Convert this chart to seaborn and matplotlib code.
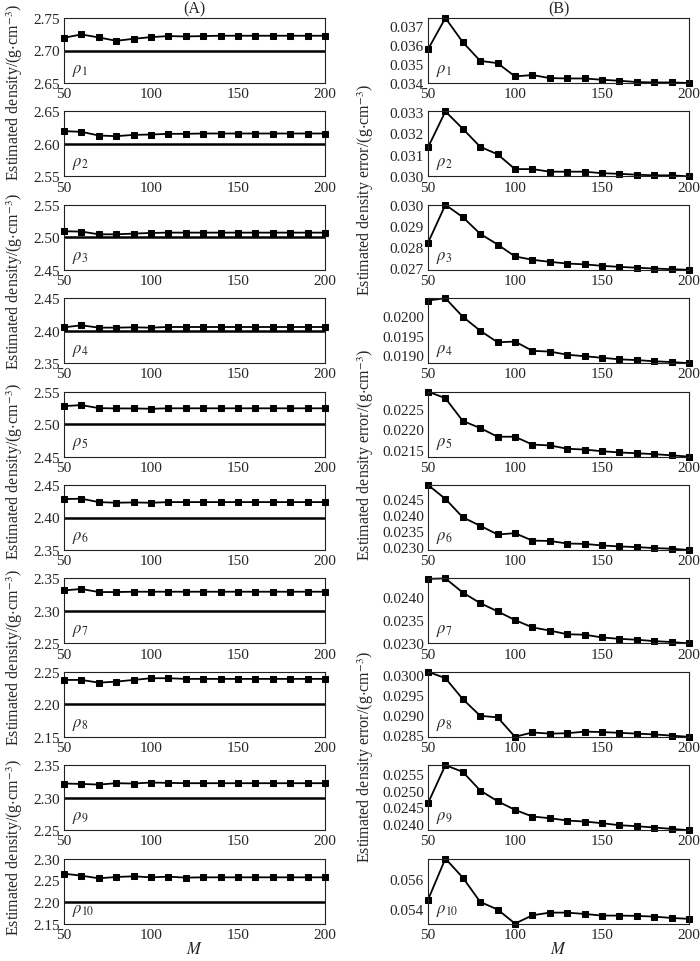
import numpy as np
import pandas as pd
import matplotlib
matplotlib.use('Agg')
import matplotlib.pyplot as plt
import seaborn as sns
from matplotlib.ticker import FixedLocator, FormatStrFormatter

sns.set_style('ticks')
plt.rcParams['font.family'] = ['Liberation Serif', 'DejaVu Serif']
plt.rcParams['mathtext.fontset'] = 'stix'

M = [50, 60, 70, 80, 90, 100, 110, 120, 130, 140, 150, 160, 170, 180, 190, 200]

# (A) estimated densities, one list per layer
true_rho = [2.70, 2.60, 2.50, 2.40, 2.50, 2.40, 2.30, 2.20, 2.30, 2.20]
est_1 = [2.7196, 2.7247, 2.7201, 2.7149, 2.7180, 2.7206, 2.7222, 2.7216, 2.7222, 2.7227, 2.7227, 2.7227, 2.7227, 2.7227, 2.7227, 2.7227]
est_2 = [2.6196, 2.6186, 2.6129, 2.6119, 2.6139, 2.6144, 2.6155, 2.6155, 2.6160, 2.6160, 2.6160, 2.6160, 2.6160, 2.6160, 2.6160, 2.6160]
est_3 = [2.5093, 2.5088, 2.5046, 2.5046, 2.5057, 2.5067, 2.5072, 2.5072, 2.5072, 2.5072, 2.5072, 2.5072, 2.5072, 2.5072, 2.5072, 2.5072]
est_4 = [2.4052, 2.4083, 2.4047, 2.4047, 2.4052, 2.4047, 2.4057, 2.4057, 2.4057, 2.4057, 2.4057, 2.4057, 2.4057, 2.4057, 2.4057, 2.4057]
est_5 = [2.5277, 2.5292, 2.5246, 2.5241, 2.5241, 2.5236, 2.5243, 2.5243, 2.5243, 2.5243, 2.5243, 2.5243, 2.5243, 2.5243, 2.5243, 2.5243]
est_6 = [2.4284, 2.4289, 2.4237, 2.4227, 2.4232, 2.4227, 2.4237, 2.4237, 2.4237, 2.4237, 2.4237, 2.4237, 2.4237, 2.4237, 2.4237, 2.4237]
est_7 = [2.3316, 2.3337, 2.3290, 2.3290, 2.3295, 2.3295, 2.3295, 2.3295, 2.3295, 2.3295, 2.3295, 2.3295, 2.3295, 2.3295, 2.3295, 2.3295]
est_8 = [2.2375, 2.2375, 2.2333, 2.2349, 2.2375, 2.2401, 2.2401, 2.2391, 2.2391, 2.2391, 2.2391, 2.2391, 2.2391, 2.2391, 2.2391, 2.2391]
est_9 = [2.3218, 2.3212, 2.3202, 2.3223, 2.3218, 2.3233, 2.3228, 2.3223, 2.3223, 2.3223, 2.3223, 2.3223, 2.3223, 2.3223, 2.3223, 2.3223]
est_10 = [2.2652, 2.2606, 2.2545, 2.2576, 2.2591, 2.2568, 2.2583, 2.2561, 2.2568, 2.2568, 2.2568, 2.2568, 2.2568, 2.2568, 2.2568, 2.2568]
est_all = [est_1, est_2, est_3, est_4, est_5, est_6, est_7, est_8, est_9, est_10]
a_ticks = [[2.65, 2.70, 2.75], [2.55, 2.60, 2.65], [2.45, 2.50, 2.55], [2.35, 2.40, 2.45],
           [2.45, 2.50, 2.55], [2.35, 2.40, 2.45], [2.25, 2.30, 2.35], [2.15, 2.20, 2.25],
           [2.25, 2.30, 2.35], [2.15, 2.20, 2.25, 2.30]]

# (B) estimated density errors
err_1 = [0.03578, 0.03744, 0.03616, 0.03517, 0.03505, 0.03435, 0.03442, 0.03426, 0.03424, 0.03424, 0.03417, 0.03412, 0.03405, 0.03403, 0.03403, 0.03400]
err_2 = [0.03135, 0.03303, 0.03222, 0.03138, 0.03103, 0.03034, 0.03034, 0.03022, 0.03022, 0.03022, 0.03015, 0.03012, 0.03008, 0.03005, 0.03005, 0.03000]
err_3 = [0.02821, 0.03003, 0.02944, 0.02864, 0.02813, 0.02756, 0.02740, 0.02730, 0.02722, 0.02718, 0.02711, 0.02706, 0.02702, 0.02698, 0.02695, 0.02692]
err_4 = [0.02041, 0.02047, 0.01999, 0.01963, 0.01933, 0.01935, 0.01911, 0.01909, 0.01901, 0.01897, 0.01893, 0.01889, 0.01887, 0.01884, 0.01882, 0.01879]
err_5 = [0.02291, 0.02275, 0.02220, 0.02203, 0.02182, 0.02182, 0.02163, 0.02161, 0.02153, 0.02151, 0.02147, 0.02144, 0.02142, 0.02140, 0.02137, 0.02134]
err_6 = [0.02493, 0.02450, 0.02393, 0.02367, 0.02340, 0.02344, 0.02321, 0.02320, 0.02312, 0.02311, 0.02306, 0.02303, 0.02301, 0.02298, 0.02296, 0.02292]
err_7 = [0.02440, 0.02441, 0.02410, 0.02387, 0.02369, 0.02350, 0.02334, 0.02327, 0.02319, 0.02318, 0.02312, 0.02309, 0.02307, 0.02304, 0.02302, 0.02299]
err_8 = [0.03009, 0.02993, 0.02940, 0.02898, 0.02894, 0.02845, 0.02856, 0.02853, 0.02854, 0.02858, 0.02857, 0.02855, 0.02853, 0.02851, 0.02848, 0.02845]
err_9 = [0.02462, 0.02576, 0.02556, 0.02500, 0.02468, 0.02442, 0.02422, 0.02417, 0.02410, 0.02407, 0.02402, 0.02396, 0.02393, 0.02389, 0.02385, 0.02381]
err_10 = [0.05461, 0.05739, 0.05611, 0.05447, 0.05396, 0.05301, 0.05357, 0.05375, 0.05375, 0.05366, 0.05355, 0.05355, 0.05353, 0.05348, 0.05339, 0.05333]
err_all = [err_1, err_2, err_3, err_4, err_5, err_6, err_7, err_8, err_9, err_10]
b_ticks = [[0.034, 0.035, 0.036, 0.037], [0.030, 0.031, 0.032, 0.033], [0.027, 0.028, 0.029, 0.030],
           [0.0190, 0.0195, 0.0200], [0.0215, 0.0220, 0.0225], [0.0230, 0.0235, 0.0240, 0.0245],
           [0.0230, 0.0235, 0.0240], [0.0285, 0.0290, 0.0295, 0.0300], [0.0240, 0.0245, 0.0250, 0.0255],
           [0.054, 0.056]]
b_fmt = ['%.3f', '%.3f', '%.3f', '%.4f', '%.4f', '%.4f', '%.4f', '%.4f', '%.4f', '%.3f']

fs = 11
W, H = 700, 962
fig = plt.figure(figsize=(7, 9.62), dpi=100)

top0, step, ph = 19, 93.4, 65


def style_axes(ax):
    for s in ax.spines.values():
        s.set_color('#222222')
        s.set_linewidth(0.8)
    ax.set_xlim(50, 200)
    ax.set_xticks([50, 100, 150, 200])
    ax.tick_params(length=0, labelsize=fs, pad=3)
    ax.set_xlabel('')
    ax.set_ylabel('')


for i in range(10):
    bottom = 1 - (top0 + i * step + ph) / H
    # left column
    axa = fig.add_axes([64 / W, bottom, 261 / W, ph / H])
    df = pd.DataFrame({'M': M, 'v': est_all[i]})
    axa.axhline(true_rho[i], color='black', lw=1.8, zorder=2)
    sns.lineplot(data=df, x='M', y='v', ax=axa, color='black', lw=1.3,
                 marker='s', markersize=4.8, markeredgecolor='black',
                 clip_on=False, zorder=3)
    style_axes(axa)
    axa.set_ylim(a_ticks[i][0], a_ticks[i][-1])
    axa.set_yticks(a_ticks[i])
    axa.yaxis.set_major_formatter(FormatStrFormatter('%.2f'))
    axa.text(0.03, 0.08, r'$\rho_{%d}$' % (i + 1), transform=axa.transAxes,
             fontsize=fs + 1, va='bottom', ha='left')

    # right column
    axb = fig.add_axes([428 / W, bottom, 261 / W, ph / H])
    df = pd.DataFrame({'M': M, 'v': err_all[i]})
    sns.lineplot(data=df, x='M', y='v', ax=axb, color='black', lw=1.3,
                 marker='s', markersize=4.8, markeredgecolor='black',
                 clip_on=False)
    style_axes(axb)
    axb.set_ylim(min(err_all[i]), max(err_all[i]))
    axb.yaxis.set_major_locator(FixedLocator(b_ticks[i]))
    axb.yaxis.set_major_formatter(FormatStrFormatter(b_fmt[i]))
    axb.text(0.03, 0.08, r'$\rho_{%d}$' % (i + 1), transform=axb.transAxes,
             fontsize=fs + 1, va='bottom', ha='left')

# column headers and x labels
fig.text(194.5 / W, 1 - 9 / H, '(A)', ha='center', va='center', fontsize=fs + 0.5)
fig.text(558.5 / W, 1 - 9 / H, '(B)', ha='center', va='center', fontsize=fs + 0.5)
fig.text(194.5 / W, 1 - 950 / H, r'$M$', ha='center', va='center', fontsize=fs + 1)
fig.text(558.5 / W, 1 - 950 / H, r'$M$', ha='center', va='center', fontsize=fs + 1)

# y labels shared by pairs of panels
for c in [93, 282, 472, 658, 848]:
    fig.text(15 / W, 1 - c / H, r'Estimated density/(g$\cdot$cm$^{-3}$)', rotation=90,
             ha='center', va='center', fontsize=fs + 0.5)
for c in [190, 455, 757]:
    fig.text(366 / W, 1 - c / H, r'Estimated density error/(g$\cdot$cm$^{-3}$)', rotation=90,
             ha='center', va='center', fontsize=fs + 0.5)

fig.savefig('out.png', dpi=100, facecolor='white')
